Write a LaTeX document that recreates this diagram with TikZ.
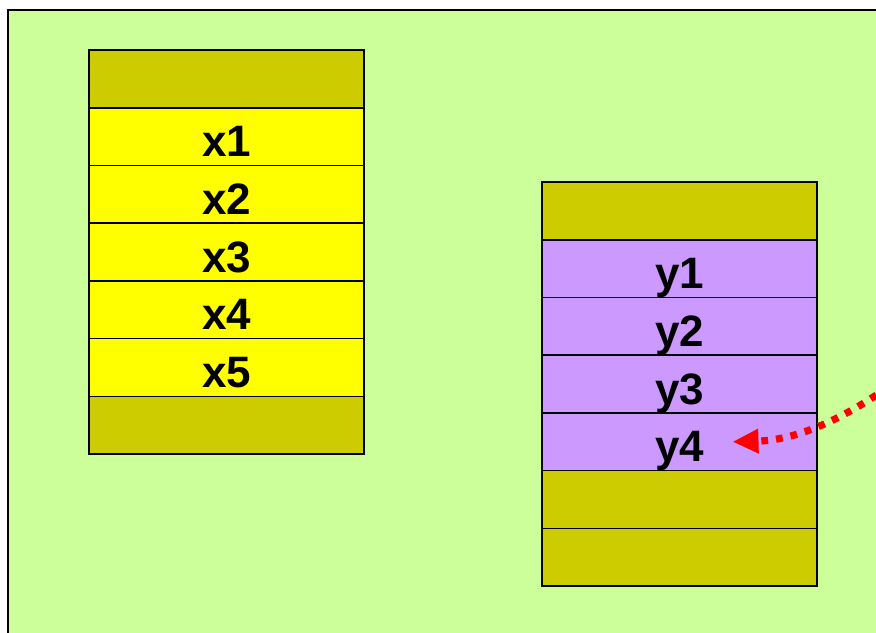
\documentclass[tikz,border=0pt]{standalone}
\usepackage{fontspec}
\setmainfont{Liberation Sans}
\usetikzlibrary{positioning,arrows.meta}
\definecolor{paleGreen}{HTML}{CCFF99}
\definecolor{oliveCell}{HTML}{CCCC00}
\definecolor{yellowCell}{HTML}{FFFF00}
\definecolor{violetCell}{HTML}{CC99FF}

\begin{document}
\begin{tikzpicture}[x=0.5pt, y=-0.5pt,
    cellBox/.style={rectangle, draw=black, line width=0.8pt, minimum width=137.5pt, minimum height=28.85pt, inner sep=0pt, outer sep=0pt, font=\fontsize{22}{26}\selectfont\bfseries, text height=20pt, text depth=0pt},
    headCell/.style={cellBox, fill=oliveCell},
    xCell/.style={cellBox, fill=yellowCell},
    yCell/.style={cellBox, fill=violetCell},
    pointerArrow/.style={-{Triangle[length=13pt, width=11.5pt]}, draw=red, line width=3.6pt, dash pattern=on 3.4pt off 4pt}
]
    \clip (0,0) rectangle (876,632);
    \fill[white] (0,0) rectangle (876,632);
    \draw[fill=paleGreen, line width=1pt] (8,10) rectangle (900,660);

    % left stack
    \node[headCell] (xTop) at (226.5,79) {};
    \node[xCell, below=0pt of xTop] (x1) {x1};
    \node[xCell, below=0pt of x1] (x2) {x2};
    \node[xCell, below=0pt of x2] (x3) {x3};
    \node[xCell, below=0pt of x3] (x4) {x4};
    \node[xCell, below=0pt of x4] (x5) {x5};
    \node[headCell, below=0pt of x5] (xBot) {};

    % right stack
    \node[headCell] (yTop) at (679.5,211) {};
    \node[yCell, below=0pt of yTop] (y1) {y1};
    \node[yCell, below=0pt of y1] (y2) {y2};
    \node[yCell, below=0pt of y2] (y3) {y3};
    \node[yCell, below=0pt of y3] (y4) {y4};
    \node[headCell, below=0pt of y4] (yBotA) {};
    \node[headCell, below=0pt of yBotA] (yBotB) {};

    \coordinate (src) at (935,350);
    \coordinate (y4Tip) at ([xshift=26.5pt]y4.center);
    \draw[pointerArrow] (src) .. controls (860,415) and (800,440) .. (y4Tip);
\end{tikzpicture}
\end{document}
